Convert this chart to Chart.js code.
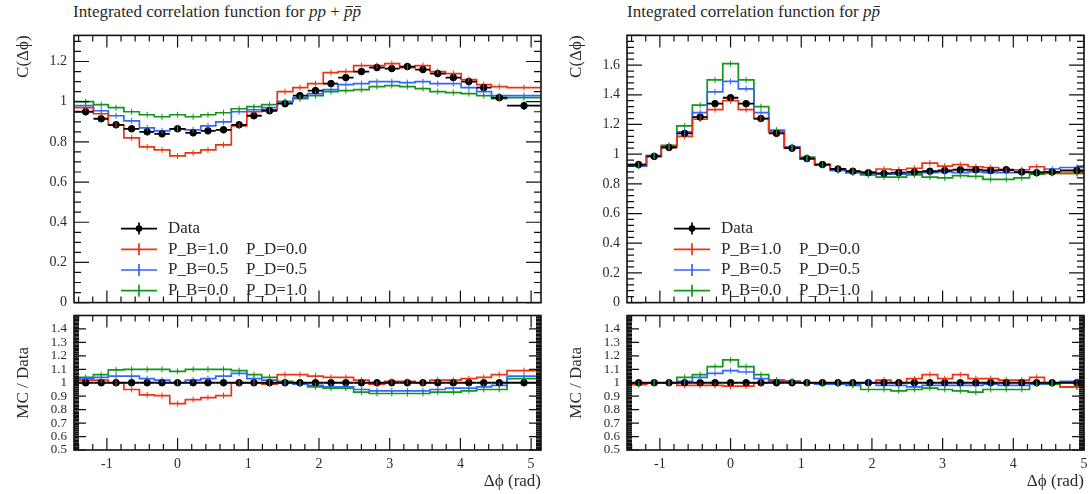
<!DOCTYPE html>
<html>
<head>
<meta charset="utf-8">
<script src="https://cdn.jsdelivr.net/npm/chart.js"></script>
<style>
  body { margin: 0; background: #fff; width: 1092px; height: 494px; overflow: hidden; position: relative; }
  canvas { position: absolute; }
  .ttl { position: absolute; top: 2px; font: 17px "Liberation Serif", serif; color: #2a2a2a; line-height: 20px; white-space: nowrap; }
  .bar { position: relative; display: inline-block; }
  .bar::after { content: ''; position: absolute; left: 2px; right: 0; top: 4px; border-top: 1px solid currentColor; }
</style>
</head>
<body>
<div class="ttl" style="left:73px">Integrated correlation function for <i>pp</i> + <i><span class="bar">p</span><span class="bar">p</span></i></div>
<canvas id="mainL" width="539" height="298" style="left:12px;top:20px"></canvas>
<canvas id="ratioL" width="539" height="192" style="left:12px;top:302px"></canvas>
<div class="ttl" style="left:627px">Integrated correlation function for <i>p<span class="bar">p</span></i></div>
<canvas id="mainR" width="529" height="298" style="left:565px;top:20px"></canvas>
<canvas id="ratioR" width="529" height="192" style="left:565px;top:302px"></canvas>
<script>
// bins in delta phi (rad)
const binCenters = [-1.30, -1.08, -0.87, -0.65, -0.43, -0.22, 0.00, 0.22, 0.43, 0.65, 0.87, 1.08, 1.30, 1.52, 1.73,
  1.95, 2.17, 2.38, 2.60, 2.82, 3.03, 3.25, 3.47, 3.68, 3.90, 4.12, 4.33, 4.55, 4.90];
const binEdges = [-1.46, -1.19, -0.98, -0.76, -0.54, -0.33, -0.11, 0.11, 0.33, 0.54, 0.76, 0.98, 1.19, 1.41, 1.63,
  1.84, 2.06, 2.27, 2.49, 2.71, 2.93, 3.14, 3.36, 3.57, 3.79, 4.01, 4.23, 4.44, 4.66, 5.14];

// tick labels
const xTicks = [-1, 0, 1, 2, 3, 4, 5];
const yTicksL = [0, 0.2, 0.4, 0.6, 0.8, 1, 1.2];
const yTicksR = [0, 0.2, 0.4, 0.6, 0.8, 1, 1.2, 1.4, 1.6];
const yTicksRatio = [0.5, 0.6, 0.7, 0.8, 0.9, 1, 1.1, 1.2, 1.3, 1.4];

const labels = ["Data", "P_B=1.0\tP_D=0.0", "P_B=0.5\tP_D=0.5", "P_B=0.0\tP_D=1.0"];
const colors = ["#000000", "#ee3311", "#3366ff", "#109618"];

/*--------------------------- pp + pbar pbar ---------------------------*/
const dataL = [0.95, 0.915, 0.885, 0.865, 0.85, 0.84, 0.865, 0.845, 0.855, 0.86, 0.885, 0.93, 0.955, 0.99, 1.03,
  1.055, 1.09, 1.12, 1.15, 1.17, 1.165, 1.175, 1.16, 1.14, 1.12, 1.10, 1.07, 1.02, 0.98];
const errL = [0.018, 0.016, 0.016, 0.016, 0.016, 0.016, 0.016, 0.016, 0.016, 0.016, 0.016, 0.016, 0.016, 0.016, 0.016,
  0.016, 0.016, 0.016, 0.016, 0.016, 0.016, 0.016, 0.016, 0.016, 0.016, 0.016, 0.016, 0.016, 0.02];
const redL = [0.97, 0.94, 0.885, 0.82, 0.775, 0.76, 0.73, 0.745, 0.76, 0.785, 0.88, 0.95, 0.96, 1.05, 1.07,
  1.09, 1.145, 1.15, 1.18, 1.18, 1.19, 1.17, 1.18, 1.15, 1.14, 1.11, 1.085, 1.075, 1.07];
const blueL = [0.98, 0.955, 0.93, 0.905, 0.87, 0.855, 0.865, 0.86, 0.88, 0.9, 0.95, 0.96, 0.97, 1.0, 1.02,
  1.04, 1.06, 1.085, 1.09, 1.1, 1.1, 1.095, 1.1, 1.09, 1.09, 1.07, 1.05, 1.03, 1.03];
const greenL = [1.0, 0.985, 0.97, 0.95, 0.935, 0.925, 0.935, 0.925, 0.935, 0.945, 0.965, 0.975, 0.985, 1.0, 1.015,
  1.03, 1.05, 1.055, 1.06, 1.075, 1.08, 1.075, 1.065, 1.05, 1.045, 1.04, 1.03, 1.015, 1.02];
const redRatioL = [1.02, 1.02, 1.0, 0.95, 0.91, 0.905, 0.845, 0.875, 0.89, 0.905, 1.0, 1.0, 0.99, 1.06, 1.06,
  1.05, 1.04, 1.04, 1.02, 0.99, 1.01, 1.01, 1.0, 1.02, 1.02, 1.03, 1.04, 1.06, 1.09];
const blueRatioL = [1.03, 1.04, 1.05, 1.05, 1.03, 1.02, 1.0, 1.02, 1.03, 1.05, 1.07, 1.03, 1.02, 1.0, 0.99,
  0.98, 0.97, 0.97, 0.95, 0.94, 0.94, 0.94, 0.94, 0.95, 0.96, 0.96, 0.97, 0.98, 1.05];
const greenRatioL = [1.04, 1.06, 1.095, 1.1, 1.1, 1.1, 1.085, 1.1, 1.1, 1.1, 1.09, 1.06, 1.04, 1.01, 0.99,
  0.97, 0.96, 0.96, 0.93, 0.92, 0.92, 0.92, 0.92, 0.93, 0.93, 0.94, 0.95, 0.95, 1.03];

/*------------------------------ p pbar ------------------------------*/
const dataR = [0.93, 0.985, 1.045, 1.14, 1.25, 1.34, 1.38, 1.34, 1.24, 1.14, 1.04, 0.97, 0.93, 0.90, 0.885,
  0.875, 0.87, 0.875, 0.88, 0.885, 0.89, 0.895, 0.895, 0.89, 0.895, 0.88, 0.875, 0.88, 0.89];
const errR = [0.012, 0.012, 0.012, 0.014, 0.014, 0.015, 0.015, 0.015, 0.014, 0.014, 0.012, 0.012, 0.012, 0.012, 0.012,
  0.012, 0.012, 0.012, 0.012, 0.012, 0.012, 0.012, 0.012, 0.012, 0.012, 0.012, 0.012, 0.012, 0.014];
const redR = [0.93, 0.985, 1.05, 1.12, 1.235, 1.30, 1.36, 1.30, 1.24, 1.15, 1.04, 0.97, 0.93, 0.90, 0.885,
  0.88, 0.90, 0.895, 0.905, 0.94, 0.92, 0.93, 0.915, 0.91, 0.89, 0.895, 0.915, 0.88, 0.87];
const blueR = [0.92, 0.99, 1.05, 1.15, 1.28, 1.42, 1.49, 1.44, 1.28, 1.16, 1.05, 0.97, 0.93, 0.89, 0.875,
  0.87, 0.865, 0.865, 0.87, 0.875, 0.88, 0.875, 0.88, 0.875, 0.875, 0.875, 0.88, 0.9, 0.91];
const greenR = [0.92, 0.99, 1.06, 1.19, 1.33, 1.50, 1.61, 1.50, 1.32, 1.16, 1.05, 0.98, 0.93, 0.89, 0.875,
  0.86, 0.845, 0.845, 0.86, 0.845, 0.84, 0.855, 0.85, 0.83, 0.83, 0.84, 0.865, 0.87, 0.87];
const redRatioR = [0.99, 1.0, 1.0, 0.98, 0.98, 0.98, 0.975, 0.975, 1.0, 1.01, 1.01, 1.0, 1.0, 1.0, 1.0,
  1.0, 1.02, 1.0, 1.03, 1.06, 1.03, 1.06, 1.03, 1.03, 1.02, 1.02, 1.04, 1.0, 0.97];
const blueRatioR = [0.99, 1.0, 1.0, 1.01, 1.04, 1.07, 1.09, 1.08, 1.03, 1.02, 1.01, 1.0, 0.99, 0.99, 0.99,
  1.0, 0.98, 0.98, 0.97, 0.98, 0.98, 0.98, 0.98, 0.99, 0.98, 0.98, 0.99, 1.0, 1.01];
const greenRatioR = [0.985, 1.0, 1.0, 1.04, 1.06, 1.12, 1.17, 1.12, 1.06, 1.02, 1.01, 1.0, 0.99, 0.99, 0.98,
  0.95, 0.95, 0.94, 0.95, 0.96, 0.95, 0.94, 0.93, 0.95, 0.95, 0.95, 0.99, 0.99, 0.97];

const SERIF = '"Liberation Serif", serif';
const INK = '#2a2a2a';

// step histogram: one point per bin edge, last value repeated
function stepData(vals) {
  return binEdges.map((e, i) => ({x: e, y: vals[Math.min(i, vals.length - 1)]}));
}

function mcSet(label, vals, color) {
  return {label: label, data: stepData(vals), borderColor: color, borderWidth: 1.7, stepped: 'before',
    pointRadius: 0, fill: false, tickMarks: vals, order: 2};
}

function dataSet(vals, errs) {
  return {label: labels[0], data: binCenters.map((c, i) => ({x: c, y: vals[i]})), showLine: false,
    borderColor: colors[0], pointRadius: 3.3, pointBackgroundColor: '#000', pointBorderColor: '#000',
    yErr: errs, order: 0};
}

// error bars for data and little cross marks on the MC histograms
const errorBars = {
  id: 'errorBars',
  afterDatasetsDraw(chart) {
    const {ctx, chartArea: a, scales: {x, y}} = chart;
    ctx.save();
    ctx.beginPath();
    ctx.rect(a.left, a.top, a.right - a.left, a.bottom - a.top);
    ctx.clip();
    chart.data.datasets.forEach(function(ds) {
      if (ds.tickMarks) {
        ctx.strokeStyle = ds.borderColor;
        ctx.lineWidth = 1;
        ds.tickMarks.forEach(function(v, i) {
          const px = x.getPixelForValue(binCenters[i]), py = y.getPixelForValue(v);
          ctx.beginPath(); ctx.moveTo(px, py - 3); ctx.lineTo(px, py + 3); ctx.stroke();
        });
      }
      if (ds.yErr) {
        ctx.strokeStyle = '#000';
        ctx.lineWidth = 1.8;
        ds.data.forEach(function(p, i) {
          const py = y.getPixelForValue(p.y), px = x.getPixelForValue(p.x);
          ctx.beginPath();
          ctx.moveTo(x.getPixelForValue(binEdges[i]), py);
          ctx.lineTo(x.getPixelForValue(binEdges[i + 1]), py);
          ctx.moveTo(px, y.getPixelForValue(p.y - ds.yErr[i]));
          ctx.lineTo(px, y.getPixelForValue(p.y + ds.yErr[i]));
          ctx.stroke();
        });
      }
    });
    ctx.restore();
  }
};

// frame with inward ticks on all four sides
const frameTicks = {
  id: 'frameTicks',
  afterDraw(chart, args, o) {
    const {ctx, chartArea: a, scales: {x, y}} = chart;
    ctx.save();
    ctx.strokeStyle = '#111';
    ctx.lineWidth = 1.2;
    function each(scale, major, minor, fn) {
      const start = Math.ceil(scale.min / minor - 1e-6), end = Math.floor(scale.max / minor + 1e-6);
      for (let i = start; i <= end; i++) {
        const v = i * minor;
        const isMajor = Math.abs(v / major - Math.round(v / major)) < 1e-6;
        fn(scale.getPixelForValue(v), isMajor);
      }
    }
    ctx.beginPath();
    each(x, o.x[0], o.x[1], function(p, big) {
      const len = big ? o.x[2] : o.x[3];
      ctx.moveTo(p, a.bottom); ctx.lineTo(p, a.bottom - len);
      ctx.moveTo(p, a.top); ctx.lineTo(p, a.top + len);
    });
    each(y, o.y[0], o.y[1], function(p, big) {
      const len = big ? o.y[2] : o.y[3];
      ctx.moveTo(a.left, p); ctx.lineTo(a.left + len, p);
      ctx.moveTo(a.right, p); ctx.lineTo(a.right - len, p);
    });
    ctx.stroke();
    ctx.lineWidth = 1.6;
    ctx.strokeRect(a.left, a.top, a.right - a.left, a.bottom - a.top);
    ctx.restore();
  }
};

const histLegend = {
  id: 'histLegend',
  afterDraw(chart) {
    const {ctx, chartArea: a} = chart;
    ctx.save();
    ctx.font = '17px ' + SERIF;
    ctx.textBaseline = 'middle';
    chart.data.datasets.forEach(function(ds, i) {
      const yy = a.bottom - 74 + i * 20.7;
      const x0 = a.left + 47, x1 = a.left + 83, xm = (x0 + x1) / 2;
      ctx.strokeStyle = ds.borderColor;
      ctx.lineWidth = 1.7;
      ctx.beginPath();
      ctx.moveTo(x0, yy); ctx.lineTo(x1, yy);
      ctx.moveTo(xm, yy - 6); ctx.lineTo(xm, yy + 6);
      ctx.stroke();
      if (ds.yErr) {
        ctx.fillStyle = '#000';
        ctx.beginPath(); ctx.arc(xm, yy, 3.3, 0, Math.PI * 2); ctx.fill();
      }
      const parts = ds.label.split('\t');
      ctx.fillStyle = INK;
      ctx.fillText(parts[0], a.left + 94, yy);
      if (parts[1]) ctx.fillText(parts[1], a.left + 172, yy);
    });
    ctx.restore();
  }
};

function tickText(v) {
  return String(+(+v).toFixed(2));
}

function fixedTicks(list) {
  return function(s) { s.ticks = list.filter(v => v >= s.min && v <= s.max).map(v => ({value: v})); };
}

function mainChart(id, xMax, yMax, yMinor, yTicks, sets) {
  return new Chart(id, {
    type: 'line',
    data: {datasets: sets},
    plugins: [errorBars, frameTicks, histLegend],
    options: {
      responsive: false, animation: false, devicePixelRatio: 1,
      layout: {padding: {top: 9, right: 10, bottom: 8, left: 0}},
      plugins: {legend: {display: false}, tooltip: {enabled: false},
        frameTicks: {x: [1, 0.2, 12, 6], y: [0.2, yMinor, 15, 7]}},
      scales: {
        x: {type: 'linear', min: -1.465, max: xMax, display: false},
        y: {min: 0, max: yMax,
          grid: {display: false, drawTicks: false}, border: {display: false},
          ticks: {padding: 7, autoSkip: false, color: INK, font: {family: SERIF, size: 14}, callback: tickText},
          afterBuildTicks: fixedTicks(yTicks),
          afterFit: function(s) { s.width = 62; },
          title: {display: true, text: 'C(Δϕ)', align: 'end', color: INK, font: {family: SERIF, size: 17}, padding: {top: 1, bottom: 0}}}
      }
    }
  });
}

function ratioChart(id, xMax, sets) {
  return new Chart(id, {
    type: 'line',
    data: {datasets: sets},
    plugins: [errorBars, frameTicks],
    options: {
      responsive: false, animation: false, devicePixelRatio: 1,
      layout: {padding: {top: 8, right: 10, bottom: 0, left: 0}},
      plugins: {legend: {display: false}, tooltip: {enabled: false},
        frameTicks: {x: [1, 0.2, 12, 6], y: [0.1, 0.01, 12, 5]}},
      scales: {
        x: {type: 'linear', min: -1.465, max: xMax,
          grid: {display: false, drawTicks: false}, border: {display: false},
          ticks: {padding: 6, autoSkip: false, maxRotation: 0, color: INK, font: {family: SERIF, size: 14}, callback: tickText},
          afterBuildTicks: fixedTicks(xTicks),
          afterFit: function(s) { s.height = 44; },
          title: {display: true, text: 'Δϕ (rad)', align: 'end', color: INK, font: {family: SERIF, size: 17}, padding: {top: 0, bottom: 2}}},
        y: {min: 0.5, max: 1.5,
          grid: {display: false, drawTicks: false}, border: {display: false},
          ticks: {padding: 7, autoSkip: false, color: INK, font: {family: SERIF, size: 13, lineHeight: 1}, callback: tickText},
          afterBuildTicks: fixedTicks(yTicksRatio),
          afterFit: function(s) { s.width = 62; },
          title: {display: true, text: 'MC / Data', align: 'center', color: INK, font: {family: SERIF, size: 17}, padding: {top: 1, bottom: 0}}}
      }
    }
  });
}

mainChart('mainL', 5.14, 1.33, 0.05, yTicksL, [
  dataSet(dataL, errL),
  mcSet(labels[1], redL, colors[1]),
  mcSet(labels[2], blueL, colors[2]),
  mcSet(labels[3], greenL, colors[3])
]);
ratioChart('ratioL', 5.14, [
  dataSet(dataL.map(() => 1), errL.map((e, i) => e / dataL[i])),
  mcSet(labels[1], redRatioL, colors[1]),
  mcSet(labels[2], blueRatioL, colors[2]),
  mcSet(labels[3], greenRatioL, colors[3])
]);

mainChart('mainR', 5.0, 1.8, 0.04, yTicksR, [
  dataSet(dataR, errR),
  mcSet(labels[1], redR, colors[1]),
  mcSet(labels[2], blueR, colors[2]),
  mcSet(labels[3], greenR, colors[3])
]);
ratioChart('ratioR', 5.0, [
  dataSet(dataR.map(() => 1), errR.map((e, i) => e / dataR[i])),
  mcSet(labels[1], redRatioR, colors[1]),
  mcSet(labels[2], blueRatioR, colors[2]),
  mcSet(labels[3], greenRatioR, colors[3])
]);
</script>
</body>
</html>
